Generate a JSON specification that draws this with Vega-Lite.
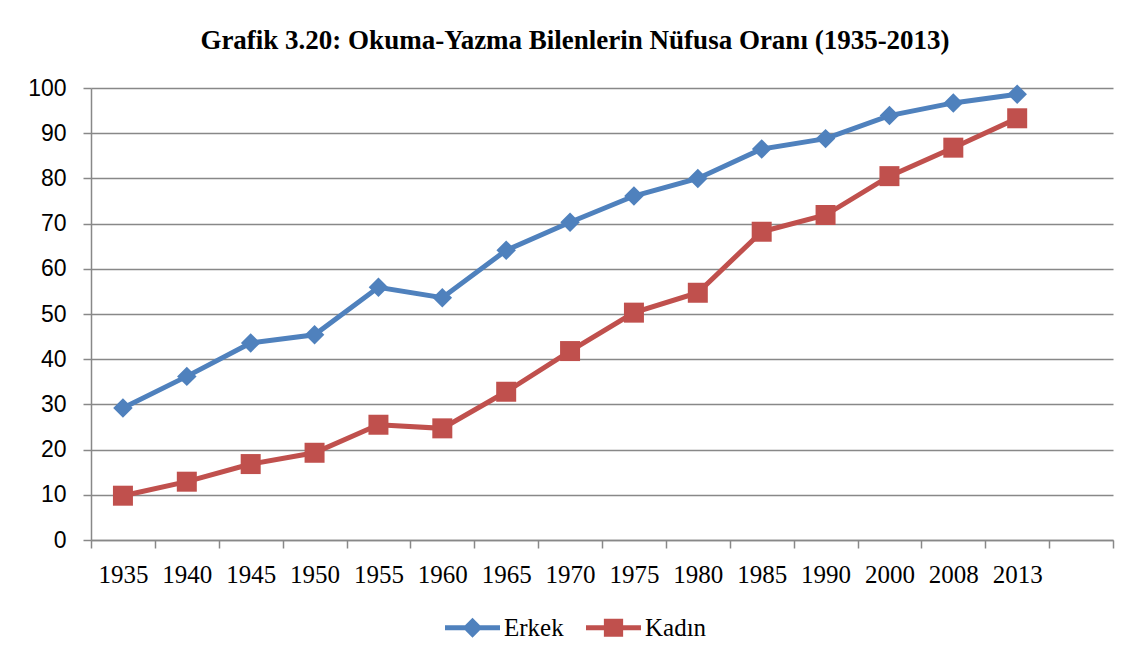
{
  "$schema": "https://vega.github.io/schema/vega-lite/v6.json",
  "width": 1022,
  "height": 452,
  "autosize": {"type": "none"},
  "padding": {"left": 91, "top": 88, "right": 29, "bottom": 124},
  "background": "white",
  "title": {
    "text": "Grafik 3.20: Okuma-Yazma Bilenlerin Nüfusa Oranı (1935-2013)",
    "font": "Liberation Serif",
    "fontSize": 27,
    "fontWeight": "bold",
    "color": "black",
    "anchor": "middle",
    "dx": -27,
    "offset": 22
  },
  "data": {
    "values": [
      {"year": "1935", "series": "Erkek", "value": 29.2},
      {"year": "1940", "series": "Erkek", "value": 36.2},
      {"year": "1945", "series": "Erkek", "value": 43.6},
      {"year": "1950", "series": "Erkek", "value": 45.4},
      {"year": "1955", "series": "Erkek", "value": 55.9},
      {"year": "1960", "series": "Erkek", "value": 53.6},
      {"year": "1965", "series": "Erkek", "value": 64.1},
      {"year": "1970", "series": "Erkek", "value": 70.3},
      {"year": "1975", "series": "Erkek", "value": 76.1},
      {"year": "1980", "series": "Erkek", "value": 80.0},
      {"year": "1985", "series": "Erkek", "value": 86.5},
      {"year": "1990", "series": "Erkek", "value": 88.8},
      {"year": "2000", "series": "Erkek", "value": 93.9},
      {"year": "2008", "series": "Erkek", "value": 96.7},
      {"year": "2013", "series": "Erkek", "value": 98.6},
      {"year": "1935", "series": "Kadın", "value": 9.8},
      {"year": "1940", "series": "Kadın", "value": 12.9},
      {"year": "1945", "series": "Kadın", "value": 16.8},
      {"year": "1950", "series": "Kadın", "value": 19.3},
      {"year": "1955", "series": "Kadın", "value": 25.5},
      {"year": "1960", "series": "Kadın", "value": 24.7},
      {"year": "1965", "series": "Kadın", "value": 32.8},
      {"year": "1970", "series": "Kadın", "value": 41.8},
      {"year": "1975", "series": "Kadın", "value": 50.3},
      {"year": "1980", "series": "Kadın", "value": 54.7},
      {"year": "1985", "series": "Kadın", "value": 68.2},
      {"year": "1990", "series": "Kadın", "value": 71.9},
      {"year": "2000", "series": "Kadın", "value": 80.5},
      {"year": "2008", "series": "Kadın", "value": 86.8},
      {"year": "2013", "series": "Kadın", "value": 93.3}
    ]
  },
  "encoding": {
    "x": {
      "field": "year",
      "type": "ordinal",
      "sort": null,
      "scale": {
        "type": "band",
        "domain": ["1935","1940","1945","1950","1955","1960","1965","1970","1975","1980","1985","1990","2000","2008","2013"," "],
        "paddingInner": 0,
        "paddingOuter": 0
      },
      "axis": {
        "title": null,
        "labelAngle": 0,
        "labelFont": "Liberation Serif",
        "labelFontSize": 25,
        "labelColor": "black",
        "labelPadding": 14,
        "tickBand": "extent",
        "tickSize": 8,
        "tickColor": "#888888",
        "tickWidth": 1.5,
        "domainColor": "#888888",
        "domainWidth": 1.5,
        "grid": false
      }
    },
    "y": {
      "field": "value",
      "type": "quantitative",
      "scale": {"domain": [0, 100], "nice": false, "zero": true},
      "axis": {
        "title": null,
        "values": [0,10,20,30,40,50,60,70,80,90,100],
        "labelFont": "Liberation Sans",
        "labelFontSize": 23,
        "labelColor": "black",
        "labelPadding": 17,
        "tickSize": 8,
        "tickColor": "#888888",
        "tickWidth": 1.5,
        "domainColor": "#888888",
        "domainWidth": 1.5,
        "grid": true,
        "gridColor": "#888888",
        "gridWidth": 1.5
      }
    },
    "color": {
      "field": "series",
      "type": "nominal",
      "scale": {"domain": ["Erkek", "Kadın"], "range": ["#4F81BD", "#C0504D"]},
      "legend": {
        "title": null,
        "orient": "none",
        "direction": "horizontal",
        "legendX": 354,
        "legendY": 512,
        "padding": 0,
        "symbolSize": 3025,
        "labelFont": "Liberation Serif",
        "labelFontSize": 25,
        "labelColor": "black",
        "labelOffset": 4,
        "columnPadding": 22,
        "encode": {
          "symbols": {
            "update": {
              "shape": {"signal": "datum.value === 'Erkek' ? 'M-1,-0.09 H-0.27 L0,-0.36 L0.27,-0.09 H1 V0.09 H0.27 L0,0.36 L-0.27,0.09 H-1 Z' : 'M-1,-0.09 H-0.35 V-0.33 H0.35 V-0.09 H1 V0.09 H0.35 V0.33 H-0.35 V0.09 H-1 Z'"},
              "fill": {"signal": "datum.value === 'Erkek' ? '#4F81BD' : '#C0504D'"},
              "fillOpacity": {"value": 1},
              "strokeWidth": {"value": 0},
              "opacity": {"value": 1}
            }
          }
        }
      }
    }
  },
  "layer": [
    {
      "mark": {"type": "line", "strokeWidth": 5}
    },
    {
      "transform": [{"filter": "datum.series === 'Erkek'"}],
      "mark": {"type": "point", "shape": "diamond", "filled": true, "opacity": 1, "size": 380}
    },
    {
      "transform": [{"filter": "datum.series === 'Kadın'"}],
      "mark": {"type": "point", "shape": "square", "filled": true, "opacity": 1, "size": 400}
    }
  ],
  "config": {
    "view": {"stroke": null}
  }
}
